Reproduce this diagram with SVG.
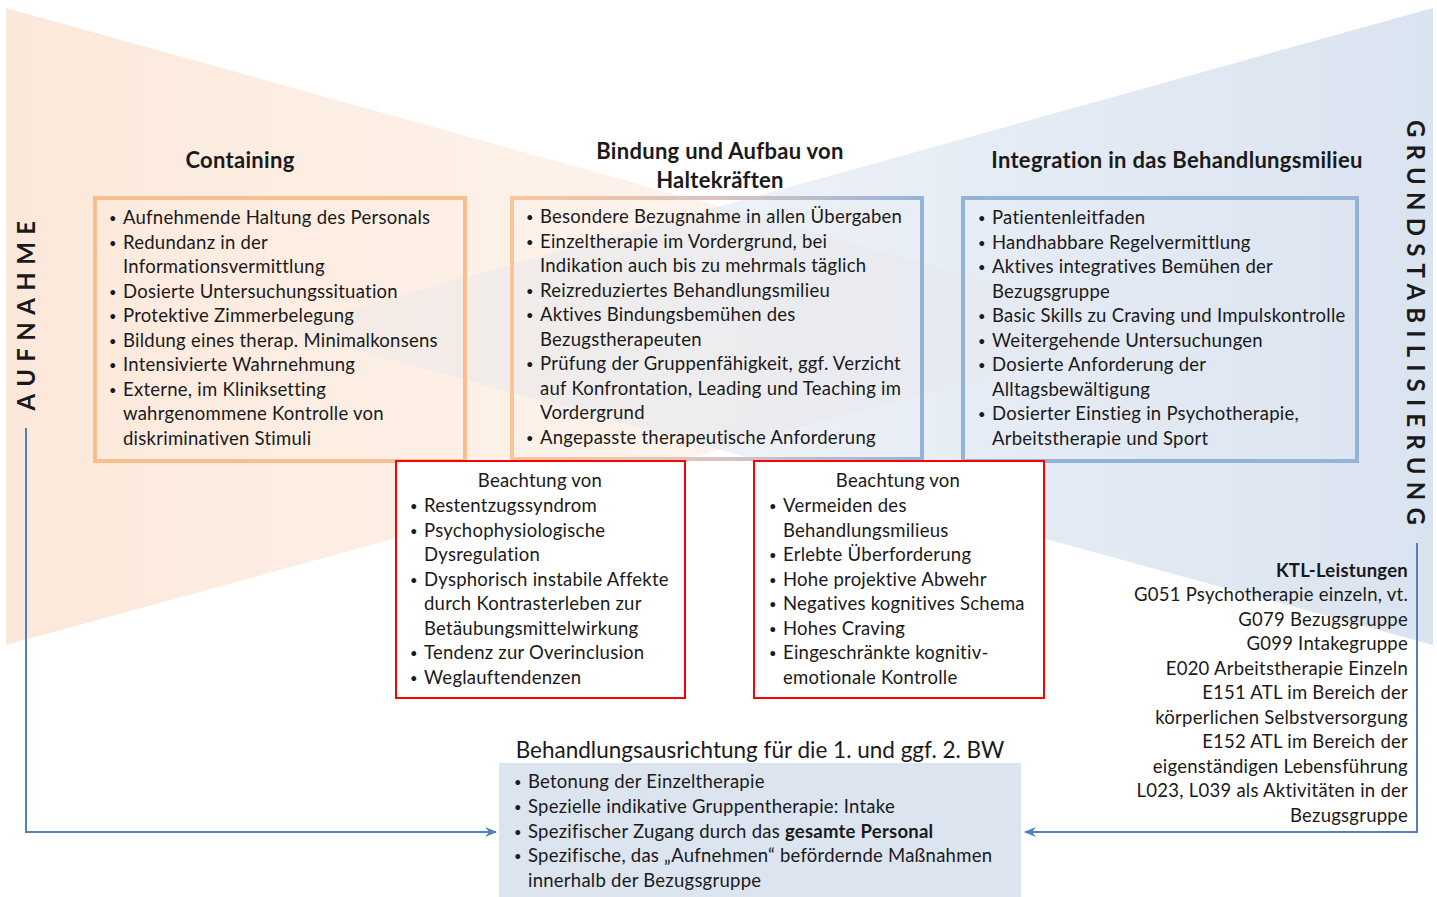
<svg xmlns="http://www.w3.org/2000/svg" width="1437" height="897" viewBox="0 0 1437 897">
  <defs>
    <linearGradient id="gOrange" gradientUnits="userSpaceOnUse" x1="6" y1="0" x2="1160" y2="0">
      <stop offset="0" stop-color="#FCE8DA" stop-opacity="1"/>
      <stop offset="1" stop-color="#FCE8DA" stop-opacity="0.15"/>
    </linearGradient>
    <linearGradient id="gBlue" gradientUnits="userSpaceOnUse" x1="1433" y1="0" x2="279" y2="0">
      <stop offset="0" stop-color="#DAE3F0" stop-opacity="1"/>
      <stop offset="1" stop-color="#DAE3F0" stop-opacity="0.15"/>
    </linearGradient>
    <linearGradient id="gBorder" gradientUnits="userSpaceOnUse" x1="510" y1="0" x2="924" y2="0">
      <stop offset="0" stop-color="#F9C59A"/>
      <stop offset="0.5" stop-color="#D9C4C2"/>
      <stop offset="1" stop-color="#95B3D7"/>
    </linearGradient>
    <marker id="arrow" viewBox="0 0 12 10" refX="11" refY="5" markerWidth="12" markerHeight="10" markerUnits="userSpaceOnUse" orient="auto">
      <path d="M0,0 L12,5 L0,10 L4,5 Z" fill="#4F81BD"/>
    </marker>
    <style>
      text { font-family: Lato, "Open Sans", "Liberation Sans", sans-serif; fill: #1a1a1a; }
      .t { font-size: 18.5px; letter-spacing: 0.25px; }
      .b { font-size: 13px; }
      .h { font-size: 22px; font-weight: bold; letter-spacing: 0.3px; }
      .v { font-size: 24px; font-weight: bold; }
      .ktl { font-size: 18.5px; letter-spacing: 0.25px; text-anchor: end; }
      .orangeBox { fill: none; stroke: #F9BE8E; stroke-width: 4; }
      .blueBox { fill: none; stroke: #95B3D7; stroke-width: 4; }
      .redBox { fill: #FFFFFF; stroke: #FF0000; stroke-width: 2; }
      .conn { fill: none; stroke: #4F81BD; stroke-width: 2; }
    </style>
  </defs>

  <!-- bow-tie background -->
  <g id="background">
    <polygon points="6,8 6,645 1160,329" fill="url(#gOrange)"/>
    <polygon points="1433,8 1433,645 279,329" fill="url(#gBlue)"/>
  </g>

  <!-- side labels -->
  <g id="label-aufnahme">
    <text class="v" transform="translate(35,312) rotate(-90)" text-anchor="middle" letter-spacing="7.4">AUFNAHME</text>
  </g>
  <g id="label-grundstabilisierung">
    <text class="v" transform="translate(1407,326) rotate(90)" text-anchor="middle" letter-spacing="7.2">GRUNDSTABILISIERUNG</text>
  </g>

  <!-- Containing -->
  <g id="containing">
    <text class="h" x="240" y="168" text-anchor="middle">Containing</text>
    <rect class="orangeBox" x="95" y="198" width="370" height="263"/>
    <g class="t">
      <text class="b" x="109" y="223">•</text><text x="123" y="224">Aufnehmende Haltung des Personals</text>
      <text class="b" x="109" y="247.5">•</text><text x="123" y="248.5">Redundanz in der</text>
      <text x="123" y="273">Informationsvermittlung</text>
      <text class="b" x="109" y="296.5">•</text><text x="123" y="297.5">Dosierte Untersuchungssituation</text>
      <text class="b" x="109" y="321">•</text><text x="123" y="322">Protektive Zimmerbelegung</text>
      <text class="b" x="109" y="345.5">•</text><text x="123" y="346.5">Bildung eines therap. Minimalkonsens</text>
      <text class="b" x="109" y="370">•</text><text x="123" y="371">Intensivierte Wahrnehmung</text>
      <text class="b" x="109" y="394.5">•</text><text x="123" y="395.5">Externe, im Kliniksetting</text>
      <text x="123" y="420">wahrgenommene Kontrolle von</text>
      <text x="123" y="444.5">diskriminativen Stimuli</text>
    </g>
  </g>

  <!-- Bindung und Aufbau von Haltekräften -->
  <g id="bindung">
    <text class="h" x="720" y="159" text-anchor="middle">Bindung und Aufbau von</text>
    <text class="h" x="720" y="188" text-anchor="middle">Haltekräften</text>
    <rect x="512" y="198" width="410" height="261" fill="none" stroke="url(#gBorder)" stroke-width="4"/>
    <g class="t">
      <text class="b" x="526" y="222">•</text><text x="540" y="223">Besondere Bezugnahme in allen Übergaben</text>
      <text class="b" x="526" y="246.5">•</text><text x="540" y="247.5">Einzeltherapie im Vordergrund, bei</text>
      <text x="540" y="272">Indikation auch bis zu mehrmals täglich</text>
      <text class="b" x="526" y="295.5">•</text><text x="540" y="296.5">Reizreduziertes Behandlungsmilieu</text>
      <text class="b" x="526" y="320">•</text><text x="540" y="321">Aktives Bindungsbemühen des</text>
      <text x="540" y="345.5">Bezugstherapeuten</text>
      <text class="b" x="526" y="369">•</text><text x="540" y="370">Prüfung der Gruppenfähigkeit, ggf. Verzicht</text>
      <text x="540" y="394.5">auf Konfrontation, Leading und Teaching im</text>
      <text x="540" y="419">Vordergrund</text>
      <text class="b" x="526" y="442.5">•</text><text x="540" y="443.5">Angepasste therapeutische Anforderung</text>
    </g>
  </g>

  <!-- Integration in das Behandlungsmilieu -->
  <g id="integration">
    <text class="h" x="1177" y="168" text-anchor="middle">Integration in das Behandlungsmilieu</text>
    <rect class="blueBox" x="963" y="198" width="394" height="263"/>
    <g class="t">
      <text class="b" x="978" y="223">•</text><text x="992" y="224">Patientenleitfaden</text>
      <text class="b" x="978" y="247.5">•</text><text x="992" y="248.5">Handhabbare Regelvermittlung</text>
      <text class="b" x="978" y="272">•</text><text x="992" y="273">Aktives integratives Bemühen der</text>
      <text x="992" y="297.5">Bezugsgruppe</text>
      <text class="b" x="978" y="321">•</text><text x="992" y="322">Basic Skills zu Craving und Impulskontrolle</text>
      <text class="b" x="978" y="345.5">•</text><text x="992" y="346.5">Weitergehende Untersuchungen</text>
      <text class="b" x="978" y="370">•</text><text x="992" y="371">Dosierte Anforderung der</text>
      <text x="992" y="395.5">Alltagsbewältigung</text>
      <text class="b" x="978" y="419">•</text><text x="992" y="420">Dosierter Einstieg in Psychotherapie,</text>
      <text x="992" y="444.5">Arbeitstherapie und Sport</text>
    </g>
  </g>

  <!-- Beachtung von (left) -->
  <g id="beachtung-links">
    <rect class="redBox" x="396" y="461" width="289" height="237"/>
    <g class="t">
      <text x="540" y="487" text-anchor="middle">Beachtung von</text>
      <text class="b" x="410" y="511">•</text><text x="424" y="512">Restentzugssyndrom</text>
      <text class="b" x="410" y="535.5">•</text><text x="424" y="536.5">Psychophysiologische</text>
      <text x="424" y="561">Dysregulation</text>
      <text class="b" x="410" y="584.5">•</text><text x="424" y="585.5">Dysphorisch instabile Affekte</text>
      <text x="424" y="610">durch Kontrasterleben zur</text>
      <text x="424" y="634.5">Betäubungsmittelwirkung</text>
      <text class="b" x="410" y="658">•</text><text x="424" y="659">Tendenz zur Overinclusion</text>
      <text class="b" x="410" y="682.5">•</text><text x="424" y="683.5">Weglauftendenzen</text>
    </g>
  </g>

  <!-- Beachtung von (right) -->
  <g id="beachtung-rechts">
    <rect class="redBox" x="754" y="461" width="290" height="237"/>
    <g class="t">
      <text x="898" y="487" text-anchor="middle">Beachtung von</text>
      <text class="b" x="769" y="511">•</text><text x="783" y="512">Vermeiden des</text>
      <text x="783" y="536.5">Behandlungsmilieus</text>
      <text class="b" x="769" y="560">•</text><text x="783" y="561">Erlebte Überforderung</text>
      <text class="b" x="769" y="584.5">•</text><text x="783" y="585.5">Hohe projektive Abwehr</text>
      <text class="b" x="769" y="609">•</text><text x="783" y="610">Negatives kognitives Schema</text>
      <text class="b" x="769" y="633.5">•</text><text x="783" y="634.5">Hohes Craving</text>
      <text class="b" x="769" y="658">•</text><text x="783" y="659">Eingeschränkte kognitiv-</text>
      <text x="783" y="683.5">emotionale Kontrolle</text>
    </g>
  </g>

  <!-- KTL-Leistungen -->
  <g id="ktl">
    <text class="ktl" x="1408" y="577" font-weight="bold">KTL-Leistungen</text>
    <text class="ktl" x="1408" y="601">G051 Psychotherapie einzeln, vt.</text>
    <text class="ktl" x="1408" y="626">G079 Bezugsgruppe</text>
    <text class="ktl" x="1408" y="650">G099 Intakegruppe</text>
    <text class="ktl" x="1408" y="675">E020 Arbeitstherapie Einzeln</text>
    <text class="ktl" x="1408" y="699">E151 ATL im Bereich der</text>
    <text class="ktl" x="1408" y="724">körperlichen Selbstversorgung</text>
    <text class="ktl" x="1408" y="748">E152 ATL im Bereich der</text>
    <text class="ktl" x="1408" y="773">eigenständigen Lebensführung</text>
    <text class="ktl" x="1408" y="797">L023, L039 als Aktivitäten in der</text>
    <text class="ktl" x="1408" y="822">Bezugsgruppe</text>
  </g>

  <!-- Behandlungsausrichtung -->
  <g id="behandlungsausrichtung">
    <text x="760" y="758" text-anchor="middle" font-size="22.5">Behandlungsausrichtung für die 1. und ggf. 2. BW</text>
    <rect x="499" y="763" width="522" height="134" fill="#DCE4F0"/>
    <g class="t">
      <text class="b" x="514" y="787">•</text><text x="528" y="788">Betonung der Einzeltherapie</text>
      <text class="b" x="514" y="812">•</text><text x="528" y="813">Spezielle indikative Gruppentherapie: Intake</text>
      <text class="b" x="514" y="837">•</text><text x="528" y="838">Spezifischer Zugang durch das <tspan font-weight="bold">gesamte Personal</tspan></text>
      <text class="b" x="514" y="861">•</text><text x="528" y="862">Spezifische, das „Aufnehmen“ befördernde Maßnahmen</text>
      <text x="528" y="887">innerhalb der Bezugsgruppe</text>
    </g>
  </g>

  <!-- connectors -->
  <g id="connectors">
    <polyline class="conn" points="26,428 26,832 496,832" marker-end="url(#arrow)"/>
    <polyline class="conn" points="1417,543 1417,832 1025,832" marker-end="url(#arrow)"/>
  </g>
</svg>
